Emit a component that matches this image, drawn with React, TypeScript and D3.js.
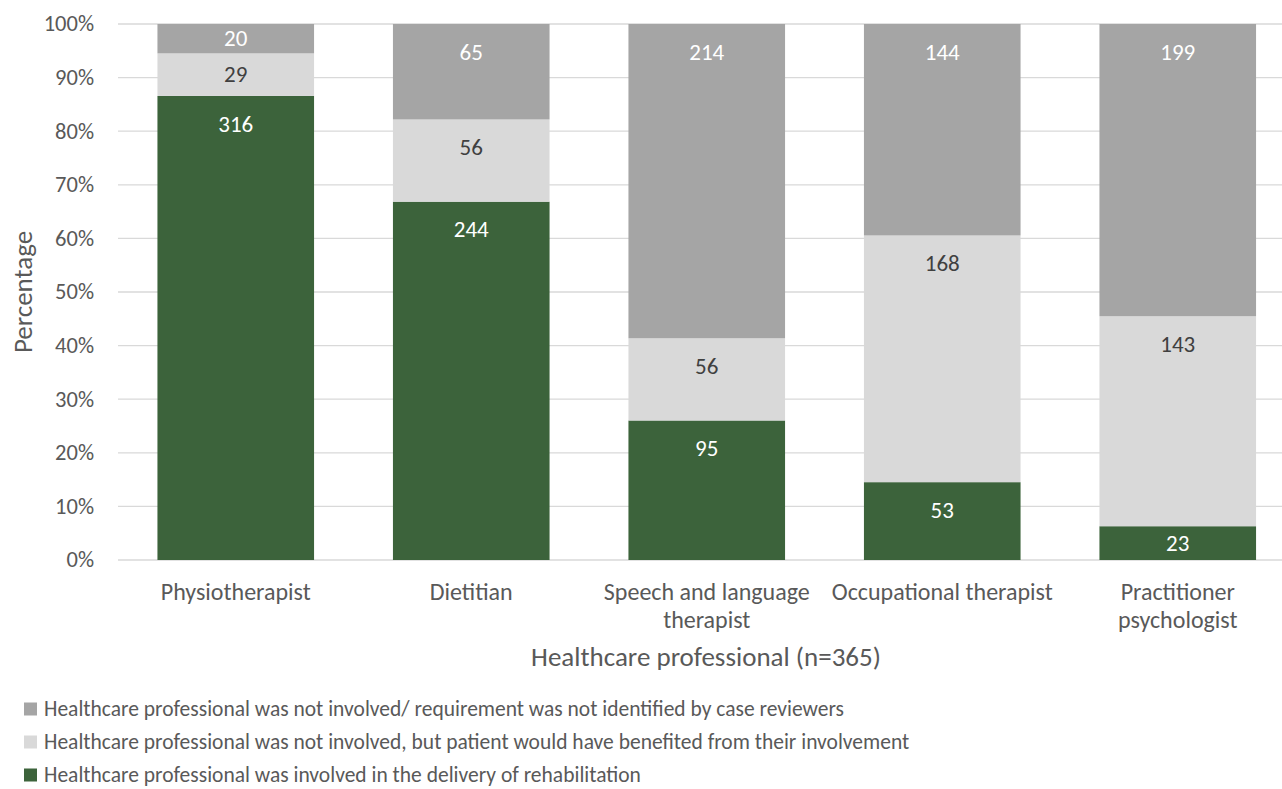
import { scaleBand, scaleLinear, stack } from 'd3'

const categories = [
  ['Physiotherapist'],
  ['Dietitian'],
  ['Speech and language', 'therapist'],
  ['Occupational therapist'],
  ['Practitioner', 'psychologist'],
]
const involved = [316, 244, 95, 53, 23]
const wouldBenefit = [29, 56, 56, 168, 143]
const notIdentified = [20, 65, 214, 144, 199]
const yTicks = [0, 10, 20, 30, 40, 50, 60, 70, 80, 90, 100]

const seriesNames = [
  'Healthcare professional was involved in the delivery of rehabilitation',
  'Healthcare professional was not involved, but patient would have benefited from their involvement',
  'Healthcare professional was not involved/ requirement was not identified by case reviewers',
]
const fills = ['#3c633b', '#d9d9d9', '#a5a5a5']
const labelColors = ['#ffffff', '#404040', '#ffffff']

export default function App() {
  const width = 1282
  const height = 789
  const left = 118
  const top = 24
  const bottom = 560
  const step = 235.5
  const font = 'Carlito, Calibri, Lato, sans-serif'

  const rows = categories.map((_, i) => {
    const total = involved[i] + wouldBenefit[i] + notIdentified[i]
    return { i, a: involved[i] / total, b: wouldBenefit[i] / total, c: notIdentified[i] / total }
  })
  const counts = [involved, wouldBenefit, notIdentified]
  const layers = stack<any>().keys(['a', 'b', 'c'])(rows)

  const x = scaleBand<number>()
    .domain(categories.map((_, i) => i))
    .range([left, left + 5 * step])
    .paddingInner(0.335)
    .paddingOuter(0.1675)
  const y = scaleLinear().domain([0, 1]).range([bottom, top])

  return (
    <svg
      width={width}
      height={height}
      viewBox={`0 0 ${width} ${height}`}
      style={{ position: 'absolute', left: 0, top: 0, background: '#fff' }}
      fontFamily={font}
    >
      {yTicks.map((t) => (
        <g key={t}>
          <line x1={left} x2={left + 5 * step} y1={y(t / 100)} y2={y(t / 100)} stroke="#d9d9d9" strokeWidth={1.3} />
          <text x={94} y={y(t / 100)} dy="0.33em" textAnchor="end" fontSize={22.5} fill="#595959">{t}%</text>
        </g>
      ))}
      {layers.map((layer, k) => (
        <g key={k}>
          {layer.map((d, i) => (
            <rect key={i} x={x(i)} width={x.bandwidth()} y={y(d[1])} height={y(d[0]) - y(d[1])} fill={fills[k]} />
          ))}
          {layer.map((d, i) => {
            const segTop = y(d[1])
            const mid = (y(d[0]) + y(d[1])) / 2
            return (
              <text
                key={'t' + i}
                x={(x(i) ?? 0) + x.bandwidth() / 2}
                y={Math.min(segTop + 28, mid)}
                dy="0.33em"
                textAnchor="middle"
                fontSize={23}
                fill={labelColors[k]}
              >
                {counts[k][i]}
              </text>
            )
          })}
        </g>
      ))}
      {categories.map((lines, i) => (
        <text key={i} textAnchor="middle" fontSize={24} fill="#595959">
          {lines.map((l, j) => (
            <tspan key={j} x={(x(i) ?? 0) + x.bandwidth() / 2} y={592 + j * 28} dy="0.33em">{l}</tspan>
          ))}
        </text>
      ))}
      <text x={706} y={657} dy="0.33em" textAnchor="middle" fontSize={27} fill="#595959">Healthcare professional (n=365)</text>
      <text
        transform={`translate(23, ${(top + bottom) / 2}) rotate(-90)`}
        dy="0.33em"
        textAnchor="middle"
        fontSize={27}
        fill="#595959"
      >
        Percentage
      </text>
      {[2, 1, 0].map((k, r) => (
        <g key={k} transform={`translate(24, ${709 + r * 33})`}>
          <rect x={0} y={-6.5} width={13} height={13} fill={fills[k]} />
          <text x={20} y={0} dy="0.33em" fontSize={21.5} fill="#595959">{seriesNames[k]}</text>
        </g>
      ))}
    </svg>
  )
}
